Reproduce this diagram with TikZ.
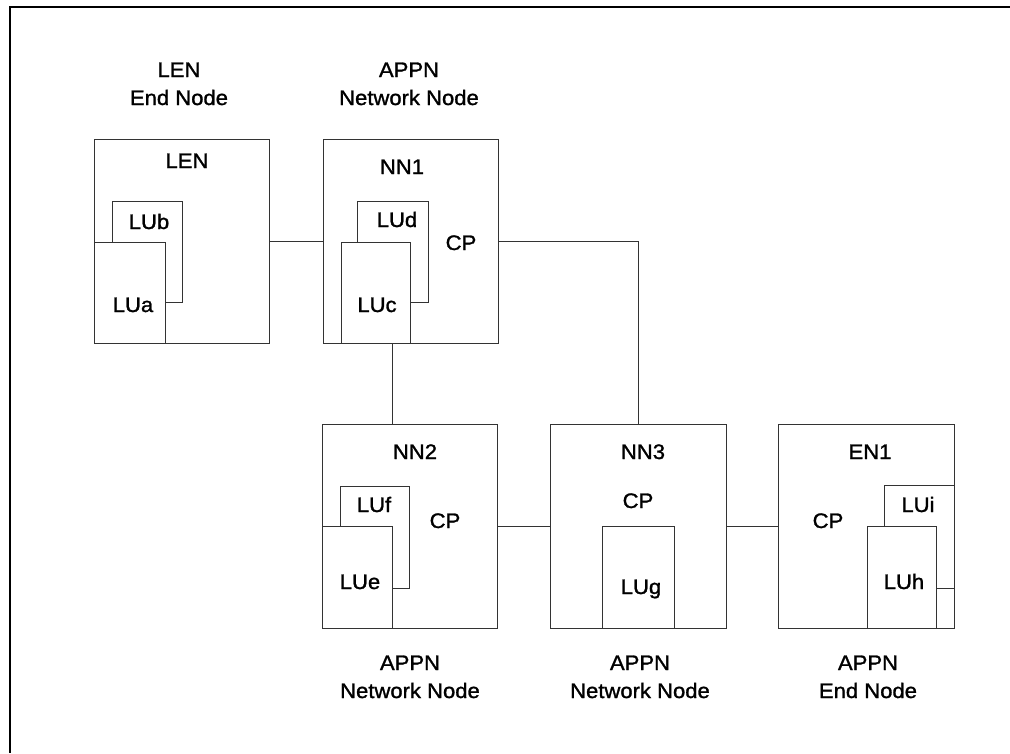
\documentclass[tikz,border=0pt]{standalone}
\usepackage{fontspec}
\setmainfont{Liberation Sans}[FakeStretch=1.05,FakeBold=1.3]
\begin{document}
\begin{tikzpicture}[x=1pt,y=-1pt,
  box/.style={draw=black!80, line width=0.9pt, fill=white, inner sep=0pt, outer sep=0pt, anchor=north west},
  conn/.style={draw=black!80, line width=0.9pt},
  txt/.style={inner sep=0pt, anchor=base, font=\fontsize{21}{25}\selectfont}]
\useasboundingbox (0,0) rectangle (1010,753);
% frame
\coordinate (frtr) at (1010,7);
\coordinate (frtl) at (10,7);
\coordinate (frbl) at (10,753);
\draw[black, line width=1.3pt] (frtr) -- (frtl) -- (frbl);

% LEN node
\node[box, minimum width=175pt, minimum height=204pt] (len) at (94,139) {};
\node[box, minimum width=70pt, minimum height=101pt] (lub) at (112,201) {};
\node[box, minimum width=71pt, minimum height=101pt] (lua) at (94,242) {};
\node[txt] (tlen) at (187,168) {LEN};
\node[txt] (tlub) at (149,229) {LUb};
\node[txt] (tlua) at (133,312) {LUa};

% NN1
\node[box, minimum width=175pt, minimum height=204pt] (nn1) at (323,139) {};
\node[box, minimum width=71pt, minimum height=101pt] (lud) at (357,201) {};
\node[box, minimum width=69pt, minimum height=101pt] (luc) at (341,242) {};
\node[txt] (tnn1) at (402,174) {NN1};
\node[txt] (tlud) at (397,227) {LUd};
\node[txt] (tcp1) at (461,250) {CP};
\node[txt] (tluc) at (377,312) {LUc};

% NN2
\node[box, minimum width=175pt, minimum height=204pt] (nn2) at (322,424) {};
\node[box, minimum width=69pt, minimum height=102pt] (luf) at (340,486) {};
\node[box, minimum width=70pt, minimum height=102pt] (lue) at (322,526) {};
\node[txt] (tnn2) at (415,459) {NN2};
\node[txt] (tluf) at (374,512) {LUf};
\node[txt] (tcp2) at (445,528) {CP};
\node[txt] (tlue) at (360,589) {LUe};

% NN3
\node[box, minimum width=176pt, minimum height=204pt] (nn3) at (550,424) {};
\node[box, minimum width=72pt, minimum height=102pt] (lug) at (602,526) {};
\node[txt] (tnn3) at (643,459) {NN3};
\node[txt] (tcp3) at (638,508) {CP};
\node[txt] (tlug) at (641,594) {LUg};

% EN1
\node[box, minimum width=176pt, minimum height=204pt] (en1) at (778,424) {};
\node[box, minimum width=70pt, minimum height=103pt] (lui) at (884,485) {};
\node[box, minimum width=69pt, minimum height=102pt] (luh) at (867,526) {};
\node[txt] (ten1) at (870,459) {EN1};
\node[txt] (tcp4) at (828,528) {CP};
\node[txt] (tlui) at (918,512) {LUi};
\node[txt] (tluh) at (904,589) {LUh};

% connectors
\draw[conn] (len) -- (nn1);
\draw[conn] (nn1.east) -| (nn3.north);
\draw[conn] (nn1.south -| lue.east) -- (nn2.north -| lue.east);
\draw[conn] (nn2) -- (nn3);
\draw[conn] (nn3) -- (en1);

% labels
\node[txt] (l1a) at (179,77) {LEN};
\node[txt] (l1b) at (179,105) {End Node};
\node[txt] (l2a) at (409,77) {APPN};
\node[txt] (l2b) at (409,105) {Network Node};
\node[txt] (l3a) at (410,670) {APPN};
\node[txt] (l3b) at (410,698) {Network Node};
\node[txt] (l4a) at (640,670) {APPN};
\node[txt] (l4b) at (640,698) {Network Node};
\node[txt] (l5a) at (868,670) {APPN};
\node[txt] (l5b) at (868,698) {End Node};
\end{tikzpicture}
\end{document}
